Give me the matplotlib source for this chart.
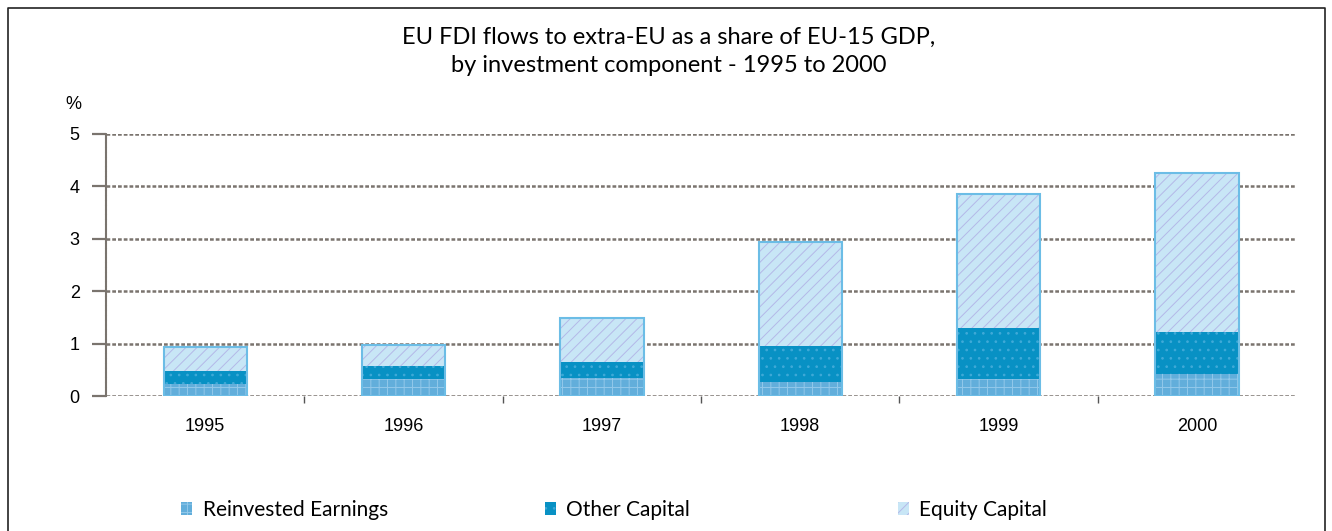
import numpy as np
import matplotlib.pyplot as plt
from matplotlib.patches import Patch
from matplotlib.lines import Line2D

# Data (% of EU-15 GDP)
years = ["1995", "1996", "1997", "1998", "1999", "2000"]
reinvested = [0.23, 0.32, 0.34, 0.27, 0.32, 0.42]
other_capital = [0.25, 0.26, 0.31, 0.68, 0.98, 0.81]
equity_capital = [0.46, 0.39, 0.84, 1.98, 2.55, 3.02]
labels = ["Reinvested Earnings", "Other Capital", "Equity Capital"]

c_reinv = "#62aedb"
c_other = "#0891c4"
c_equity = "#c8e6f6"
c_edge = "#6cbde6"
grid_c = "#7a746e"

plt.rcParams["hatch.linewidth"] = 0.7

fig = plt.figure(figsize=(13.32, 5.31), dpi=100)
ax = fig.add_axes([0.0796, 0.254, 0.8934, 0.494])

x = np.arange(len(years))
w = 0.42
r = np.array(reinvested)
o = np.array(other_capital)
e = np.array(equity_capital)

# grid first so bars sit on top
for v in range(0, 6):
    ax.axhline(v, color=grid_c, lw=1.8, ls=(0, (1.5, 0.8)), zorder=0)

styles = [(c_reinv, "#92c8ea", "++"), (c_other, "#40aad8", ".."), (c_equity, "#b4b8e8", "///")]
ax.bar(x, r, w, color=styles[0][0], edgecolor=styles[0][1], hatch=styles[0][2], linewidth=0, zorder=2)
ax.bar(x, o, w, bottom=r, color=styles[1][0], edgecolor=styles[1][1], hatch=styles[1][2], linewidth=0, zorder=2)
ax.bar(x, e, w, bottom=r + o, color=styles[2][0], edgecolor=styles[2][1], hatch=styles[2][2], linewidth=0, zorder=2)
# outline around each stack
ax.bar(x, r + o + e, w, fill=False, edgecolor=c_edge, linewidth=1.5, zorder=3)

ax.set_xlim(-0.5, 5.5)
ax.set_ylim(0, 5)
ax.set_yticks(range(0, 6))
ax.set_xticks(x)
ax.set_xticklabels(years)
ax.set_xticks(np.arange(0.5, 5.5, 1), minor=True)

for s in ["top", "right", "bottom"]:
    ax.spines[s].set_visible(False)
ax.spines["left"].set_color(grid_c)
ax.spines["left"].set_linewidth(1.5)
ax.spines["left"].set_linestyle((0, (1.5, 0.8)))

ax.tick_params(axis="y", length=10, color=grid_c, width=1.6, labelsize=13, pad=9)
ax.tick_params(axis="x", which="major", length=0, labelsize=13, pad=16)
ax.tick_params(axis="x", which="minor", length=5, color="#555555", width=1)
for lab in ax.get_xticklabels() + ax.get_yticklabels():
    lab.set_family("Liberation Sans")

fig.text(0.502, 0.903, "EU FDI flows to extra-EU as a share of EU-15 GDP,\nby investment component - 1995 to 2000",
         ha="center", va="center", fontsize=17, family="Lato", linespacing=1.4)
fig.text(0.049, 0.795, "%", fontsize=13, family="Liberation Sans")

# legend, one entry per slot like the original layout
anchors = [0.128, 0.401, 0.666]
for (fc, hc, hp), lab, xa in zip(styles, labels, anchors):
    h = Patch(facecolor=fc, edgecolor=hc, hatch=hp, linewidth=0)
    leg = fig.legend([h], [lab], loc="center left", bbox_to_anchor=(xa, 0.04), frameon=False,
                     handlelength=0.55, handleheight=0.55, handletextpad=0.5, borderpad=0,
                     prop={"family": "Lato", "size": 15})

# frame around the figure
fig.add_artist(Line2D([0.006, 0.006, 0.995, 0.995], [0.0, 0.985, 0.985, 0.0],
                      transform=fig.transFigure, color="#222222", lw=1.2))

plt.savefig("out.png", dpi=100)
